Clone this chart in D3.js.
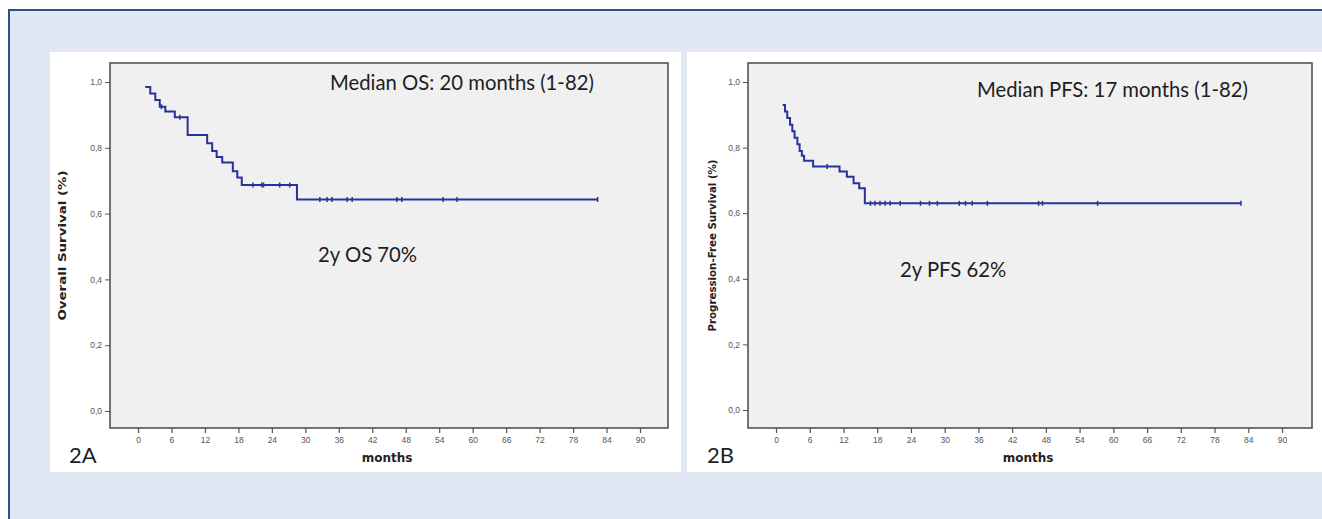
<!DOCTYPE html>
<html>
<head>
<meta charset="utf-8">
<script src="https://cdn.jsdelivr.net/npm/d3@7"></script>
<style>
  html, body { margin: 0; padding: 0; background: #fff; }
  svg { display: block; }
</style>
</head>
<body>
<svg id="chart" width="1322" height="519"></svg>
<script>
// ── data ─────────────────────────────────────────────────────────────────
const xTickValues = [0, 6, 12, 18, 24, 30, 36, 42, 48, 54, 60, 66, 72, 78, 84, 90];
const yTickValues = [0, 0.2, 0.4, 0.6, 0.8, 1.0];

// overall survival: [months, survival after the event]
const osSteps = [
    [1.3, 0.985], [2.2, 0.965], [3.1, 0.945], [3.9, 0.925], [4.9, 0.91],
    [6.6, 0.893], [8.9, 0.839], [12.4, 0.814], [13.3, 0.79], [14.1, 0.772],
    [15.1, 0.755], [17.0, 0.729], [17.8, 0.71], [18.6, 0.687], [28.5, 0.643]
];
const osCensored = [4.2, 7.5, 20.6, 22.2, 22.5, 25.4, 27.2, 32.6, 33.9, 34.8,
                    37.5, 38.4, 46.4, 47.3, 54.7, 57.2];
const osLastFollowUp = 82.4;

// progression-free survival
const pfsSteps = [
    [1.2, 0.93], [1.6, 0.91], [2.0, 0.89], [2.5, 0.87], [2.9, 0.85],
    [3.3, 0.83], [3.8, 0.81], [4.2, 0.79], [4.6, 0.775], [5.0, 0.76],
    [6.6, 0.742], [11.3, 0.727], [12.6, 0.711], [13.8, 0.691], [14.8, 0.676],
    [15.8, 0.63]
];
const pfsCensored = [9.1, 16.8, 17.6, 18.5, 19.4, 20.3, 22.1, 25.7, 27.3, 28.7,
                     32.6, 33.7, 34.9, 37.6, 46.7, 47.4, 57.2];
const pfsLastFollowUp = 82.7;

const panels = [
    {
        tag: "2A", yTitle: "Overall Survival (%)",
        median: "Median OS: 20 months (1-82)", rate: "2y OS 70%",
        steps: osSteps, censored: osCensored, last: osLastFollowUp,
        card: { x: 50, y: 52, w: 631, h: 420 },
        box: { left: 110, right: 668, top: 63, bottom: 428 },
        x0: 138, x90: 640, y0: 411, y1: 82,
        medianPos: [330, 90], ratePos: [318, 262], tagPos: [69, 463],
        yTitleX: 66, yTitleLen: 150
    },
    {
        tag: "2B", yTitle: "Progression-Free Survival (%)",
        median: "Median PFS: 17 months (1-82)", rate: "2y PFS 62%",
        steps: pfsSteps, censored: pfsCensored, last: pfsLastFollowUp,
        card: { x: 687, y: 52, w: 640, h: 420 },
        box: { left: 748, right: 1312, top: 63, bottom: 428 },
        x0: 776, x90: 1282, y0: 410, y1: 82,
        medianPos: [977, 97], ratePos: [900, 277], tagPos: [707, 463],
        yTitleX: 716, yTitleLen: 172
    }
];

// ── page frame ───────────────────────────────────────────────────────────
const svg = d3.select("#chart");

svg.append("rect")
    .attr("x", 9).attr("y", 10)
    .attr("width", 1322).attr("height", 520)
    .attr("fill", "#e1e8f3")
    .attr("stroke", "#2e5289")
    .attr("stroke-width", 2);

const lineColor = "#27329a";

function survivalAt(steps, t) {
    let s = steps[0][1];
    steps.forEach(([time, v]) => { if (time <= t) s = v; });
    return s;
}

function drawPanel(p) {
    const g = svg.append("g");

    g.append("rect")
        .attr("x", p.card.x).attr("y", p.card.y)
        .attr("width", p.card.w).attr("height", p.card.h)
        .attr("fill", "#ffffff");

    const x = d3.scaleLinear().domain([0, 90]).range([p.x0, p.x90]);
    const y = d3.scaleLinear().domain([0, 1]).range([p.y0, p.y1]);

    // plot area
    g.append("rect")
        .attr("x", p.box.left).attr("y", p.box.top)
        .attr("width", p.box.right - p.box.left)
        .attr("height", p.box.bottom - p.box.top)
        .attr("fill", "#f0f0f0")
        .attr("stroke", "#4a4a4a")
        .attr("stroke-width", 1.5);

    // y axis
    const yAxisG = g.append("g")
        .attr("transform", `translate(${p.box.left},0)`)
        .call(d3.axisLeft(y)
            .tickValues(yTickValues)
            .tickSize(5)
            .tickPadding(3)
            .tickFormat(d => d3.format(".1f")(d).replace(".", ",")));
    yAxisG.select(".domain").remove();
    yAxisG.selectAll("line").attr("stroke", "#555");
    yAxisG.selectAll("text")
        .attr("fill", "#555")
        .style("font-family", "'Liberation Sans', Arial, sans-serif")
        .style("font-size", "8.5px");

    // x axis
    const xAxisG = g.append("g")
        .attr("transform", `translate(0,${p.box.bottom})`)
        .call(d3.axisBottom(x)
            .tickValues(xTickValues)
            .tickSize(5)
            .tickPadding(4));
    xAxisG.select(".domain").remove();
    xAxisG.selectAll("line").attr("stroke", "#555").attr("stroke-width", 1.2);
    xAxisG.selectAll("text")
        .attr("fill", "#555")
        .style("font-family", "'Liberation Sans', Arial, sans-serif")
        .style("font-size", "8.5px");

    // axis titles
    g.append("text")
        .attr("x", (p.box.left + p.box.right) / 2 - 2)
        .attr("y", 462)
        .attr("text-anchor", "middle")
        .attr("fill", "#222")
        .style("font-family", "'DejaVu Sans', sans-serif")
        .style("font-weight", "bold")
        .style("font-size", "12px")
        .text("months");

    g.append("text")
        .attr("transform", `translate(${p.yTitleX},${(p.box.top + p.box.bottom) / 2}) rotate(-90)`)
        .attr("text-anchor", "middle")
        .attr("textLength", p.yTitleLen)
        .attr("lengthAdjust", "spacingAndGlyphs")
        .attr("fill", "#222")
        .style("font-family", "'DejaVu Sans Condensed', 'DejaVu Sans', sans-serif")
        .style("font-weight", "bold")
        .style("font-size", "10px")
        .text(p.yTitle);

    // survival curve
    const pts = p.steps.map(d => d.slice());
    pts.push([p.last, p.steps[p.steps.length - 1][1]]);
    const line = d3.line()
        .x(d => x(d[0]))
        .y(d => y(d[1]))
        .curve(d3.curveStepAfter);

    g.append("path")
        .datum(pts)
        .attr("d", line)
        .attr("fill", "none")
        .attr("stroke", lineColor)
        .attr("stroke-width", 2);

    // censor marks
    g.selectAll(".censor")
        .data(p.censored.concat([p.last]))
        .enter().append("line")
        .attr("class", "censor")
        .attr("x1", d => x(d)).attr("x2", d => x(d))
        .attr("y1", d => y(survivalAt(p.steps, d)) - 2.5)
        .attr("y2", d => y(survivalAt(p.steps, d)) + 2.5)
        .attr("stroke", lineColor)
        .attr("stroke-width", 1.5);

    // annotations
    const ann = (pos, txt, size) => g.append("text")
        .attr("x", pos[0]).attr("y", pos[1])
        .attr("fill", "#1e1e1e")
        .style("font-family", "Lato, 'Open Sans', sans-serif")
        .style("font-size", size + "px")
        .text(txt);
    ann(p.medianPos, p.median, 20.3);
    ann(p.ratePos, p.rate, 20.3);
    ann(p.tagPos, p.tag, 22);
}

panels.forEach(drawPanel);
</script>
</body>
</html>
